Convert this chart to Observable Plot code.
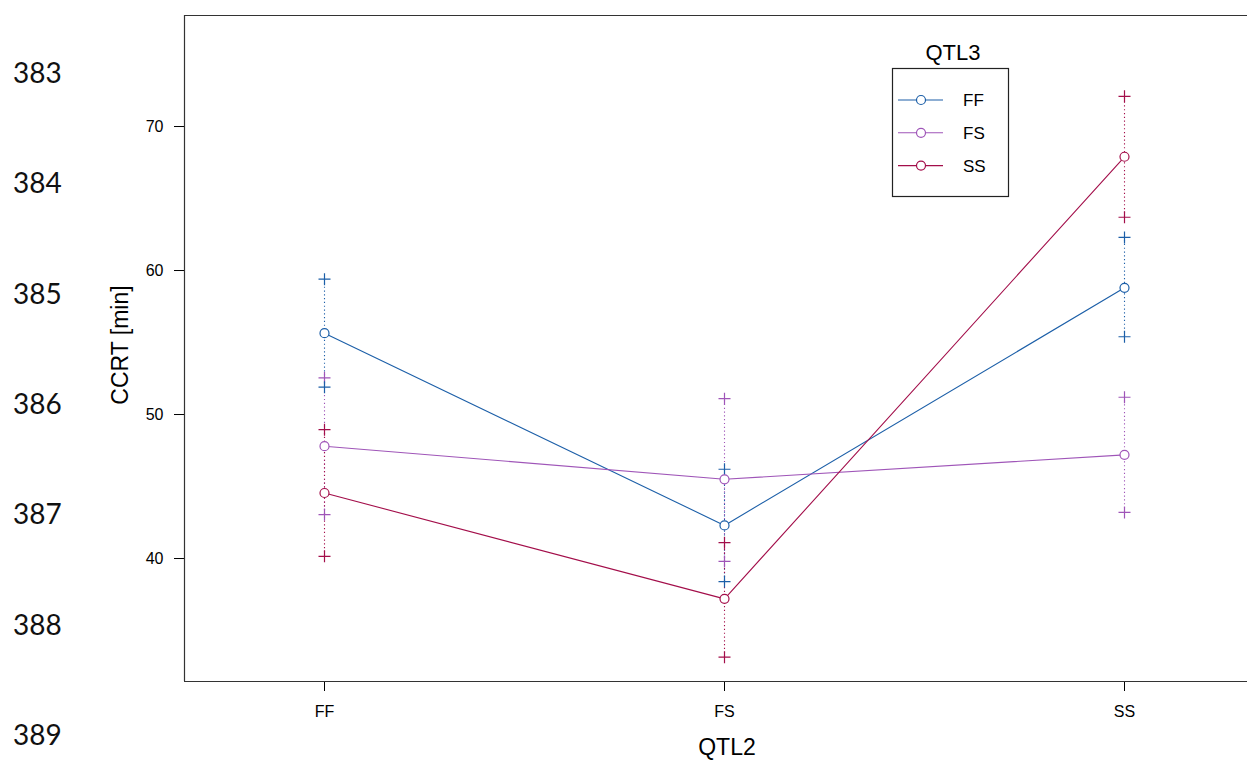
<!DOCTYPE html>
<html><head><meta charset="utf-8">
<script src="https://cdn.jsdelivr.net/npm/d3@7"></script>
<script src="https://cdn.jsdelivr.net/npm/@observablehq/plot@0.6"></script>
<style>
body{margin:0;background:#fff;}
#wrap{position:relative;width:1247px;height:760px;overflow:hidden;background:#fff;}
</style>
</head><body><div id="wrap"></div>
<script>
// Categories
const qtl2 = ["FF", "FS", "SS"];          // x categories
const qtl3 = ["FF", "FS", "SS"];          // series
const seriesColors = ["#1c5fa8", "#9f55b8", "#a30e4a"];
const yTicks = [40, 50, 60, 70];
const lineNumbers = ["383", "384", "385", "386", "387", "388", "389"];

// Series values (mean, upper, lower) by QTL2 = FF, FS, SS
const meanFF  = [55.65, 42.3, 58.8];
const upperFF = [59.4, 46.2, 62.3];
const lowerFF = [51.9, 38.4, 55.4];

const meanFS  = [47.8, 45.5, 47.2];
const upperFS = [52.55, 51.1, 51.2];
const lowerFS = [43.05, 39.8, 43.2];

const meanSS  = [44.55, 37.2, 67.9];
const upperSS = [48.95, 41.1, 72.1];
const lowerSS = [40.15, 33.15, 63.7];

const means = [meanFF, meanFS, meanSS];
const uppers = [upperFF, upperFS, upperSS];
const lowers = [lowerFF, lowerFS, lowerSS];

const rows = [];
qtl3.forEach((g, gi) => qtl2.forEach((c, ci) => rows.push({
  g, x: ci, mean: means[gi][ci], hi: uppers[gi][ci], lo: lowers[gi][ci]
})));

const xDomain = [-0.35, 2.3075];
const yDomain = [31.46, 77.71];

const plusSymbol = {
  draw(ctx, size) {
    const r = Math.sqrt(size / Math.PI);
    ctx.moveTo(-r, 0); ctx.lineTo(r, 0);
    ctx.moveTo(0, -r); ctx.lineTo(0, r);
  }
};

const chart = Plot.plot({
  width: 1247, height: 760,
  marginLeft: 184, marginRight: 0, marginTop: 15, marginBottom: 79,
  style: {fontFamily: "'Liberation Sans', Arial, sans-serif", fontSize: "16px", color: "#000", background: "#fff", overflow: "visible"},
  x: {type: "linear", domain: xDomain, ticks: [0, 1, 2], tickFormat: i => qtl2[i], tickSize: 10, tickPadding: 14, label: null},
  y: {domain: yDomain, ticks: yTicks, tickSize: 10, tickPadding: 11, label: null},
  color: {domain: qtl3, range: seriesColors},
  marks: [
    Plot.ruleX(rows, {x: "x", y1: "lo", y2: "hi", stroke: "g", strokeWidth: 1.1, strokeDasharray: "1.2,2.6"}),
    Plot.line(rows, {x: "x", y: "mean", z: "g", stroke: "g", strokeWidth: 1.1}),
    Plot.dot(rows, {x: "x", y: "hi", symbol: plusSymbol, r: 6, stroke: "g", fill: "none", strokeWidth: 1.2}),
    Plot.dot(rows, {x: "x", y: "lo", symbol: plusSymbol, r: 6, stroke: "g", fill: "none", strokeWidth: 1.2}),
    Plot.dot(rows, {x: "x", y: "mean", r: 4.5, stroke: "g", fill: "white", strokeWidth: 1.2}),
    Plot.ruleX([xDomain[0]], {stroke: "#333", strokeWidth: 1.2}),
    Plot.ruleY([yDomain[0], yDomain[1]], {stroke: "#333", strokeWidth: 1.2})
  ]
});

document.getElementById("wrap").appendChild(chart);

const svg = d3.select(chart);
// Axis titles
svg.append("text").attr("transform", "translate(128,345) rotate(-90)")
  .attr("text-anchor", "middle").attr("font-size", 23).attr("fill", "#000").text("CCRT [min]");
svg.append("text").attr("x", 727).attr("y", 755)
  .attr("text-anchor", "middle").attr("font-size", 23).attr("fill", "#000").text("QTL2");

// Legend
const lg = svg.append("g");
lg.append("text").attr("x", 953).attr("y", 60).attr("text-anchor", "middle")
  .attr("font-size", 22).attr("fill", "#000").text("QTL3");
lg.append("rect").attr("x", 892.5).attr("y", 68.5).attr("width", 116).attr("height", 128)
  .attr("fill", "white").attr("stroke", "#222").attr("stroke-width", 1.2);
qtl3.forEach((g, i) => {
  const yy = 100 + i * 32.8;
  lg.append("line").attr("x1", 898).attr("x2", 943).attr("y1", yy).attr("y2", yy)
    .attr("stroke", seriesColors[i]).attr("stroke-width", 1.1);
  lg.append("circle").attr("cx", 921).attr("cy", yy).attr("r", 4.5)
    .attr("fill", "white").attr("stroke", seriesColors[i]).attr("stroke-width", 1.2);
  lg.append("text").attr("x", 963).attr("y", yy + 6).attr("text-anchor", "start")
    .attr("font-size", 17).attr("fill", "#000").text(g);
});

// Document line numbers on the left
lineNumbers.forEach((t, i) => {
  svg.append("text").attr("x", 13).attr("y", 83 + i * 110.3).attr("text-anchor", "start")
    .attr("font-family", "Lato, 'Open Sans', sans-serif").attr("font-size", 28).attr("fill", "#111").text(t);
});
</script>
</body></html>
